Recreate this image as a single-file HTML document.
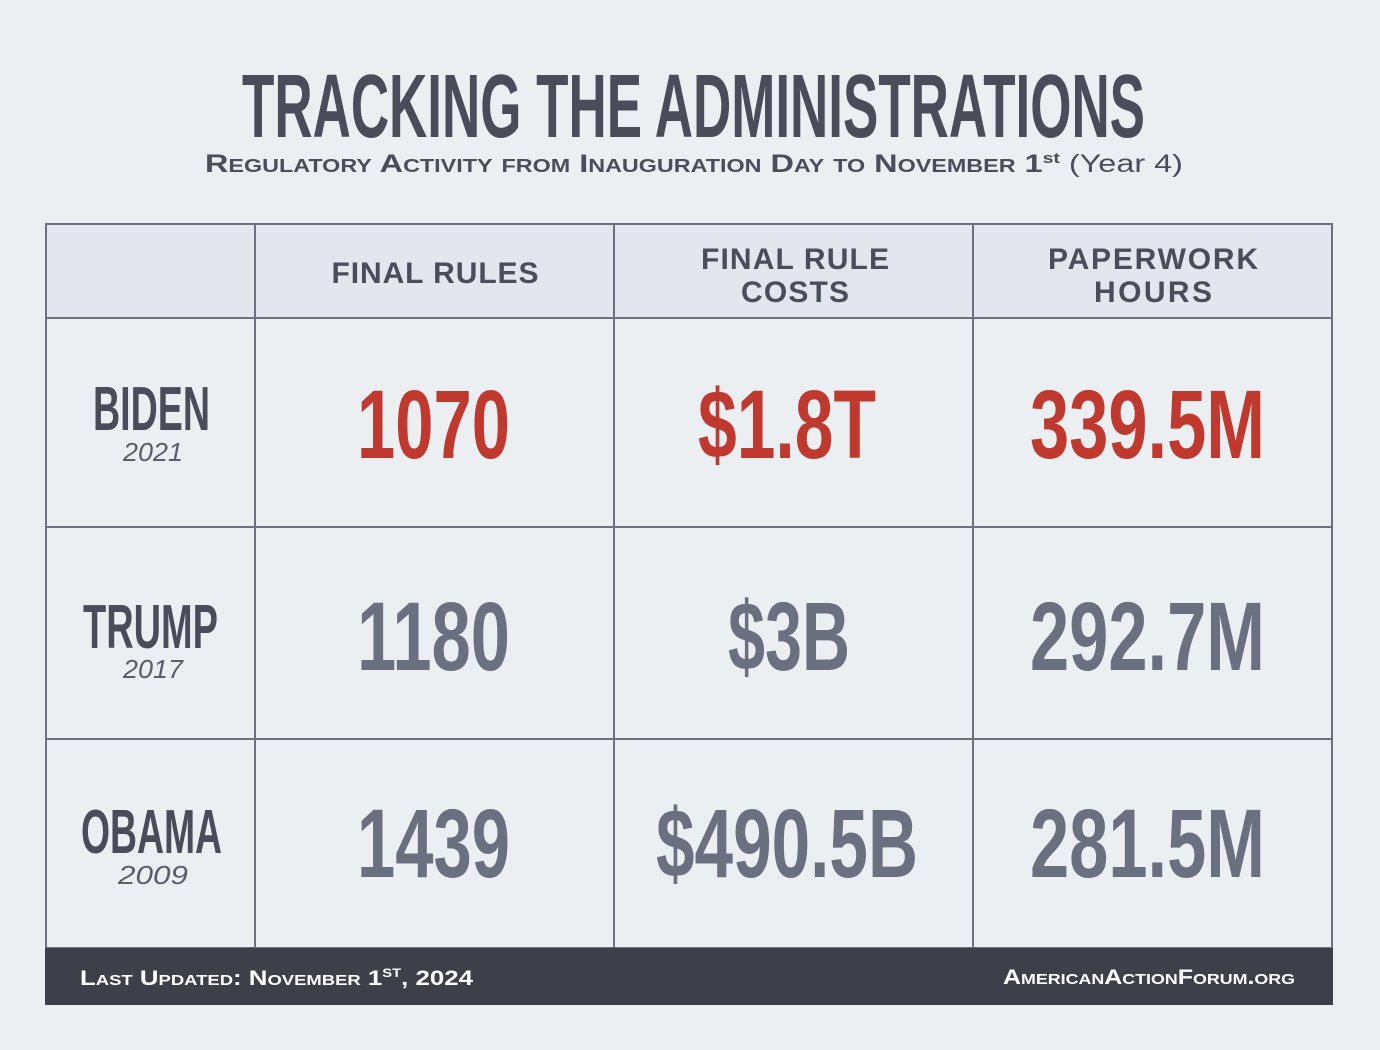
<!DOCTYPE html>
<html><head><meta charset="utf-8"><style>
html,body{margin:0;padding:0;background:#eceff2;}
svg{display:block}
text{font-family:"Liberation Sans",sans-serif;}
</style></head><body>
<svg width="1380" height="1050" viewBox="0 0 1380 1050" xmlns="http://www.w3.org/2000/svg">
<rect width="1380" height="1050" fill="#eceff2"/>
<text x="242" y="137" font-size="90" font-weight="bold" fill="#4a4c5a" textLength="903" lengthAdjust="spacingAndGlyphs">TRACKING THE ADMINISTRATIONS</text>
<text x="205" y="172" font-size="25" font-weight="bold" fill="#4a4d5a" style="font-variant:small-caps" textLength="978" lengthAdjust="spacingAndGlyphs">Regulatory Activity from Inauguration Day to November 1<tspan font-size="15" dy="-9" style="font-variant:normal">st</tspan><tspan dy="9" style="font-variant:normal" font-weight="normal"> (Year 4)</tspan></text>

<rect x="45" y="223" width="1287" height="95" fill="#e3e6ec"/>
<g stroke="#6e7080" stroke-width="2" fill="none">
<rect x="46" y="224" width="1286" height="724"/>
<line x1="46" y1="318" x2="1332" y2="318"/>
<line x1="46" y1="527" x2="1332" y2="527"/>
<line x1="46" y1="739" x2="1332" y2="739"/>
<line x1="255" y1="224" x2="255" y2="948"/>
<line x1="614" y1="224" x2="614" y2="948"/>
<line x1="973" y1="224" x2="973" y2="948"/>
</g>
<rect x="45" y="948" width="1288" height="57" fill="#3d4048"/>

<g font-size="30" font-weight="bold" fill="#4a4d5a" text-anchor="middle">
<text x="436" y="283" textLength="209" lengthAdjust="spacing" letter-spacing="2">FINAL RULES</text>
<text x="795" y="269" textLength="188" lengthAdjust="spacing">FINAL RULE</text>
<text x="795" y="302" textLength="108" lengthAdjust="spacing">COSTS</text>
<text x="1153" y="269" textLength="210" lengthAdjust="spacing">PAPERWORK</text>
<text x="1153" y="302" textLength="118" lengthAdjust="spacing">HOURS</text>
</g>

<g font-size="62" font-weight="bold" fill="#4a4c5a">
<text x="93" y="430" textLength="117" lengthAdjust="spacingAndGlyphs">BIDEN</text>
<text x="83" y="648" textLength="135" lengthAdjust="spacingAndGlyphs">TRUMP</text>
<text x="81" y="853" textLength="141" lengthAdjust="spacingAndGlyphs">OBAMA</text>
</g>
<g font-size="26" font-style="italic" fill="#5a5d6a">
<text x="123" y="461" textLength="60" lengthAdjust="spacingAndGlyphs">2021</text>
<text x="123" y="678" textLength="60" lengthAdjust="spacingAndGlyphs">2017</text>
<text x="118" y="884" textLength="70" lengthAdjust="spacingAndGlyphs">2009</text>
</g>

<g font-size="97" font-weight="bold" fill="#c0392f">
<text x="357" y="458" textLength="153" lengthAdjust="spacingAndGlyphs">1070</text>
<text x="698" y="458" textLength="178" lengthAdjust="spacingAndGlyphs">$1.8T</text>
<text x="1030" y="458" textLength="235" lengthAdjust="spacingAndGlyphs">339.5M</text>
</g>
<g font-size="97" font-weight="bold" fill="#6b7080">
<text x="357" y="670" textLength="153" lengthAdjust="spacingAndGlyphs">1180</text>
<text x="728" y="670" textLength="122" lengthAdjust="spacingAndGlyphs">$3B</text>
<text x="1030" y="670" textLength="235" lengthAdjust="spacingAndGlyphs">292.7M</text>
<text x="357" y="877" textLength="153" lengthAdjust="spacingAndGlyphs">1439</text>
<text x="656" y="877" textLength="262" lengthAdjust="spacingAndGlyphs">$490.5B</text>
<text x="1030" y="877" textLength="235" lengthAdjust="spacingAndGlyphs">281.5M</text>
</g>

<g font-size="21" font-weight="bold" fill="#ffffff" style="font-variant:small-caps">
<text x="80" y="985" textLength="393" lengthAdjust="spacingAndGlyphs">Last Updated: November 1<tspan font-size="12" dy="-8">ST</tspan><tspan dy="8">, 2024</tspan></text>
<text x="1003" y="984" textLength="292" lengthAdjust="spacingAndGlyphs">AmericanActionForum.org</text>
</g>
</svg>
</body></html>
